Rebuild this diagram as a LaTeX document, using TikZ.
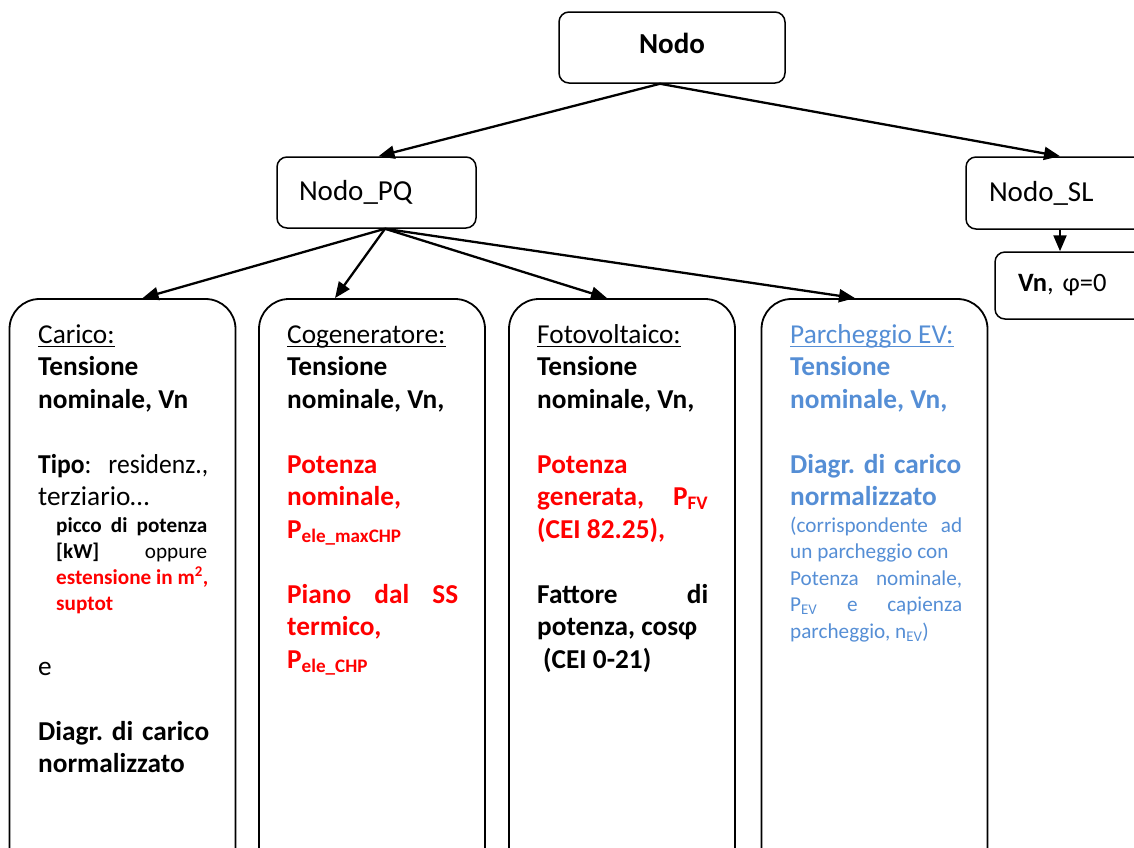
\documentclass[tikz,border=0pt]{standalone}
\usepackage{fontspec}
\usepackage{graphicx}
\setmainfont{Carlito}
\usetikzlibrary{arrows.meta}
\definecolor{evblue}{RGB}{85,142,213}
\definecolor{myred}{RGB}{255,0,0}
\newcommand{\jl}[2]{\makebox[#1][s]{#2}}
\frenchspacing
\begin{document}
\begin{tikzpicture}[x=1pt,y=-1pt,
  box/.style={draw=black,line width=1.8pt,rounded corners=30pt,inner sep=0pt,minimum width=226pt,minimum height=580pt},
  sbox/.style={draw=black,line width=1.5pt,rounded corners=10pt,inner sep=0pt},
  arr/.style={-{Triangle[length=16pt,width=13pt]},line width=2.3pt},
  ln/.style={anchor=base west,inner sep=0pt,font=\fontsize{27.3}{32}\selectfont},
  sm/.style={anchor=base west,inner sep=0pt,font=\fontsize{21.2}{26}\selectfont},
  ul/.style={line width=1.2pt},
]
\useasboundingbox (0,0) rectangle (1134,847);
\clip (0,0) rectangle (1134,847);

% top nodes
\node[sbox,minimum width=226pt,minimum height=71pt,text depth=8pt,font=\fontsize{29}{34}\selectfont\bfseries] (nodo) at (672,47.5) {Nodo};
\node[sbox,minimum width=199pt,minimum height=71pt,text width=155pt,align=left,font=\fontsize{29}{34}\selectfont] (pq) at (376.5,192.5) {Nodo\_PQ};
\node[sbox,minimum width=194pt,minimum height=72pt,text width=148pt,align=left,font=\fontsize{29}{34}\selectfont] (sl) at (1063,193) {Nodo\_SL};
\node[sbox,minimum width=165pt,minimum height=67pt,text width=119pt,align=left,font=\fontsize{26.5}{31}\selectfont] (vn) at (1077.5,285.5) {\textbf{Vn}, φ=0};

% big boxes
\node[box] (carico) at (122.5,589) {};
\node[box] (cogen) at (372,589) {};
\node[box] (foto) at (622,589) {};
\node[box] (parch) at (874.5,589) {};

% arrows
\draw[arr] ([xshift=-12pt]nodo.south) -- ([xshift=2pt]pq.north);
\draw[arr] ([xshift=-12pt]nodo.south) -- ([xshift=-3pt]sl.north);
\draw[arr] ([xshift=-3pt]sl.south) -- ([xshift=-17.5pt]vn.north);
\draw[arr] ([xshift=8.5pt]pq.south) -- ([xshift=20pt]carico.north);
\draw[arr] ([xshift=8.5pt]pq.south) -- ([xshift=-37pt]cogen.north);
\draw[arr] ([xshift=8.5pt]pq.south) -- ([xshift=-15pt]foto.north);
\draw[arr] ([xshift=8.5pt]pq.south) -- ([xshift=-19.5pt]parch.north);

% Carico
\node[ln] (ca0) at (38,343) {Carico:};
\draw[ul] ([yshift=-3.5pt]ca0.base west) -- ([yshift=-3.5pt]ca0.base east);
\node[ln] (ca1) at (38,375.5) {\textbf{Tensione}};
\node[ln] (ca2) at (38,408) {\textbf{nominale, Vn}};
\node[ln] (ca3) at (38,473) {\resizebox{170pt}{\height}{\textbf{Tipo}:\hspace{18pt}residenz.,}};
\node[ln] (ca4) at (38,505.5) {terziario…};
\node[sm] (ca5) at (56,532) {\jl{151pt}{\textbf{picco di potenza}}};
\node[sm] (ca6) at (56,558) {\jl{151pt}{\textbf{[kW]} oppure}};
\node[sm,text=myred] (ca7) at (56,584) {\textbf{estensione in m\textsuperscript{2},}};
\node[sm,text=myred] (ca8) at (56,610) {\textbf{suptot}};
\node[ln] (ca9) at (38,675) {e};
\node[ln] (ca10) at (38,740) {\jl{171pt}{\textbf{Diagr. di carico}}};
\node[ln] (ca11) at (38,772.5) {\textbf{normalizzato}};

% Cogeneratore
\node[ln] (co0) at (287,343) {Cogeneratore:};
\draw[ul] ([yshift=-3.5pt]co0.base west) -- ([yshift=-3.5pt]co0.base east);
\node[ln] (co1) at (287,375.5) {\textbf{Tensione}};
\node[ln] (co2) at (287,408) {\textbf{nominale, Vn,}};
\node[ln,text=myred] (co3) at (287,473) {\textbf{Potenza}};
\node[ln,text=myred] (co4) at (287,505.5) {\textbf{nominale,}};
\node[ln,text=myred] (co5) at (287,538) {\textbf{P\textsubscript{ele\_maxCHP}}};
\node[ln,text=myred] (co6) at (287,603) {\jl{171pt}{\textbf{Piano dal SS}}};
\node[ln,text=myred] (co7) at (287,635.5) {\textbf{termico,}};
\node[ln,text=myred] (co8) at (287,668) {\textbf{P\textsubscript{ele\_CHP}}};

% Fotovoltaico
\node[ln] (fo0) at (537,343) {Fotovoltaico:};
\draw[ul] ([yshift=-3.5pt]fo0.base west) -- ([yshift=-3.5pt]fo0.base east);
\node[ln] (fo1) at (537,375.5) {\textbf{Tensione}};
\node[ln] (fo2) at (537,408) {\textbf{nominale, Vn,}};
\node[ln,text=myred] (fo3) at (537,473) {\textbf{Potenza}};
\node[ln,text=myred] (fo4) at (537,505.5) {\jl{171pt}{\textbf{generata, P\textsubscript{FV}}}};
\node[ln,text=myred] (fo5) at (537,538) {\textbf{(CEI 82.25),}};
\node[ln] (fo6) at (537,603) {\jl{171pt}{\textbf{Fattore di}}};
\node[ln] (fo7) at (537,635.5) {\textbf{potenza, cosφ}};
\node[ln] (fo8) at (543,668) {\textbf{(CEI 0-21)}};

% Parcheggio EV
\node[ln,text=evblue] (pa0) at (790,343) {Parcheggio EV:};
\draw[ul,evblue] ([yshift=-3.5pt]pa0.base west) -- ([yshift=-3.5pt]pa0.base east);
\node[ln,text=evblue] (pa1) at (790,375.5) {\textbf{Tensione}};
\node[ln,text=evblue] (pa2) at (790,408) {\textbf{nominale, Vn,}};
\node[ln,text=evblue] (pa3) at (790,473) {\jl{171pt}{\textbf{Diagr. di carico}}};
\node[ln,text=evblue] (pa4) at (790,505.5) {\textbf{normalizzato}};
\node[sm,text=evblue] (pa5) at (790,532) {\jl{172pt}{(corrispondente ad}};
\node[sm,text=evblue] (pa6) at (790,558.5) {un parcheggio con};
\node[sm,text=evblue] (pa7) at (790,585) {\jl{172pt}{Potenza nominale,}};
\node[sm,text=evblue] (pa8) at (790,611.5) {\jl{172pt}{P\textsubscript{EV} e capienza}};
\node[sm,text=evblue] (pa9) at (790,638) {parcheggio, n\textsubscript{EV})};
\end{tikzpicture}
\end{document}
